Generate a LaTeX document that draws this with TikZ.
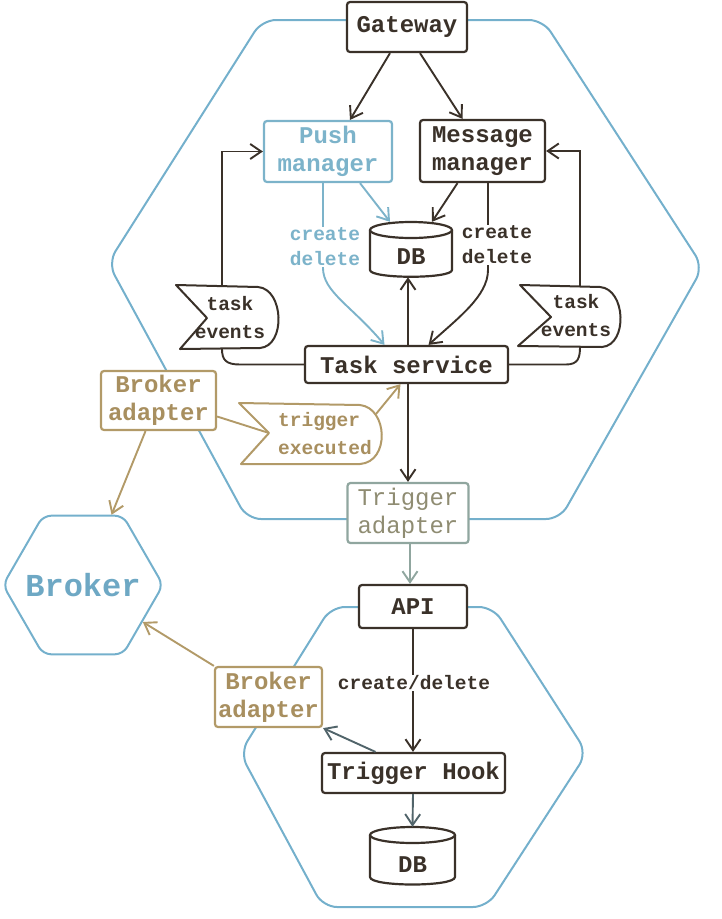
\documentclass[tikz,border=0pt]{standalone}
\usepackage{fontspec}
\setmonofont{Liberation Mono}
\usetikzlibrary{arrows.meta,shapes.geometric}
\definecolor{ink}{HTML}{3A3129}
\definecolor{hexblue}{HTML}{74B0CC}
\definecolor{pushblue}{HTML}{7CB3CA}
\definecolor{brokerblue}{HTML}{6EA8C4}
\definecolor{tanc}{HTML}{B29A68}
\definecolor{tantext}{HTML}{A88F5F}
\definecolor{tagray}{HTML}{8F8C72}
\colorlet{tablue}{hexblue!55!tanc}
\colorlet{inkblue}{ink!60!hexblue}
\newcommand\mfBig{\fontsize{24}{28}\selectfont\ttfamily\bfseries}
\newcommand\mfBigReg{\fontsize{24}{28}\selectfont\ttfamily}
\newcommand\mfSmall{\fontsize{19.5}{25}\selectfont\ttfamily\bfseries}
\newcommand\mfSmallL{\fontsize{19.5}{28}\selectfont\ttfamily\bfseries}
\newcommand\mfHuge{\fontsize{32}{36}\selectfont\ttfamily\bfseries}
\tikzset{
  box/.style={draw=ink, text=ink, line width=2.2pt, rounded corners=3pt, fill=white,
    inner sep=0pt, align=center, font=\mfBig},
  hexl/.style={draw=hexblue, line width=2pt, rounded corners=14pt},
  banner/.style={draw=ink, line width=2pt, fill=white, line join=round},
  bantext/.style={inner sep=0pt, align=center, font=\mfSmallL, text=ink},
  lbl/.style={fill=white, inner sep=1pt, align=center, font=\mfSmall},
  conn/.style={line width=1.9pt},
  arr/.style={conn, -{Straight Barb[length=11pt,width=15pt,line width=1.9pt]}},
}
\begin{document}
\begin{tikzpicture}[x=1pt,y=-1pt]
\useasboundingbox (0,0) rectangle (722,919);
% hexagons
\draw[hexl] (108,263) -- (262,20) -- (543,20) -- (703,267) -- (560,519) -- (247,519) -- cycle;
\draw[hexl] (240,753) -- (331,607) -- (493,607) -- (587,753) -- (487,907) -- (323,907) -- cycle;
% banners
\draw[banner] (176,285) -- (258,287) .. controls (284,289) and (286,346) .. (260,348) -- (180,349) -- (207,318) -- cycle;
\draw[banner] (520,285) -- (600,287) .. controls (626,289) and (628,345) .. (602,347) -- (518,346) -- (551,317) -- cycle;
\draw[banner, draw=tanc] (239,403) -- (360,405) .. controls (388,408) and (390,462) .. (360,464) -- (241,464) -- (269,433) -- cycle;
\coordinate (lbtop) at (222,286);
\coordinate (lbbot) at (222,349);
\coordinate (rbtop) at (580,286);
\coordinate (rbbot) at (580,347);
\coordinate (tenotch) at (269,433);
\coordinate (teout) at (376,414);
\node[bantext] (lb) at (230,318) {task\\events};
\node[bantext] (rb) at (576,316) {task\\events};
\node[bantext, align=left, text=tantext] (te) at (325,434) {trigger\\executed};
% nodes
\node[box, minimum width=120, minimum height=50] (gw) at (407,27) {Gateway};
\node[box, draw=pushblue, text=pushblue, minimum width=128, minimum height=61] (pm) at (328,151.5) {Push\\manager};
\node[box, minimum width=125, minimum height=62] (mm) at (482.5,151) {Message\\manager};
\node[box, minimum width=203, minimum height=37] (ts) at (406.5,364.5) {Task service};
\node[box, draw=tablue, text=tagray, font=\mfBigReg, minimum width=121, minimum height=60] (ta) at (408,513) {Trigger\\adapter};
\node[box, minimum width=108, minimum height=43] (api) at (413,606.5) {API};
\node[box, minimum width=183, minimum height=40] (th) at (413.5,773) {Trigger Hook};
\node[box, draw=tanc, text=tantext, minimum width=115, minimum height=59] (ba1) at (158.5,400.5) {Broker\\adapter};
\node[box, draw=tanc, text=tantext, minimum width=107, minimum height=60] (ba2) at (268.5,697) {Broker\\adapter};
\node[regular polygon, regular polygon sides=6, minimum size=160, inner sep=0pt,
  draw=hexblue, line width=2pt, rounded corners=8pt, text=brokerblue, font=\mfHuge] (broker) at (83,585) {\makebox[0pt]{Broker}};
% databases
\draw[draw=ink, line width=2.2pt] (370,230) -- (370,270) .. controls (370,279) and (452,279) .. (452,270) -- (452,230);
\draw[draw=ink, line width=2.2pt] (411,230) ellipse [x radius=41, y radius=8];
\node[inner sep=0pt, minimum width=82, minimum height=55, font=\mfBig, text=ink] (db1) at (411,249.5) {\raisebox{-7.5pt}[\height][\depth]{DB}};
\draw[draw=ink, line width=2.2pt] (370,835) -- (370,877) .. controls (370,887) and (455,887) .. (455,877) -- (455,835);
\draw[draw=ink, line width=2.2pt] (412.5,835) ellipse [x radius=42.5, y radius=8];
\node[inner sep=0pt, minimum width=85, minimum height=58, font=\mfBig, text=ink] (db2) at (412.5,856) {\raisebox{-9pt}[\height][\depth]{DB}};
% connectors
\draw[arr, ink] ([xshift=-17pt]gw.south) -- ([xshift=22pt]pm.north);
\draw[arr, ink] ([xshift=13pt]gw.south) -- ([xshift=-20pt]mm.north);
\draw[arr, pushblue] ([xshift=32pt]pm.south) -- ([xshift=-21pt]db1.north);
\draw[arr, ink] ([xshift=-25pt]mm.south) -- ([xshift=21pt]db1.north);
\draw[arr, pushblue] ([xshift=-5pt]pm.south) -- (323,268) .. controls (323,292) and (352,306) .. ([xshift=-22pt]ts.north);
\draw[arr, ink] ([xshift=5.5pt]mm.south) -- (488,270) .. controls (488,296) and (458,318) .. ([xshift=22pt]ts.north);
\node[lbl, text=pushblue] (cd1) at (325,247) {create\\delete};
\node[lbl, text=ink] (cd2) at (497,245) {create\\delete};
\draw[arr, ink] ([xshift=1.5pt]ts.north) -- ([xshift=-3pt]db1.south);
\draw[arr, ink] ([xshift=1.5pt]ts.south) -- (ta.north);
\draw[arr, tablue] ([xshift=2pt]ta.south) -- ([xshift=-3pt]api.north);
\draw[arr, ink] (api.south) -- ([xshift=-0.5pt]th.north);
\node[lbl, text=ink] (cd3) at (414,683) {create/delete};
\draw[arr, inkblue] ([xshift=-0.5pt]th.south) -- (db2.north);
\draw[arr, inkblue] ([xshift=-38pt]th.north) -- (ba2.south east);
\draw[arr, tanc] (ba2.north west) -- (broker);
\draw[arr, tanc] ([xshift=-13pt]ba1.south) -- (broker);
\draw[conn, tanc] ([yshift=-16pt]ba1.east) -- (tenotch);
\draw[arr, tanc] (teout) -- ([xshift=-6pt]ts.south);
\draw[conn, ink] (ts.west) -- (240,364.5) .. controls (226,364.5) and (222,360) .. (lbbot);
\draw[arr, ink] (lbtop) |- (pm.west);
\draw[conn, ink] (ts.east) -- (566,364.5) .. controls (578,364.5) and (580,358) .. (rbbot);
\draw[arr, ink] (rbtop) |- (mm.east);
\end{tikzpicture}
\end{document}
